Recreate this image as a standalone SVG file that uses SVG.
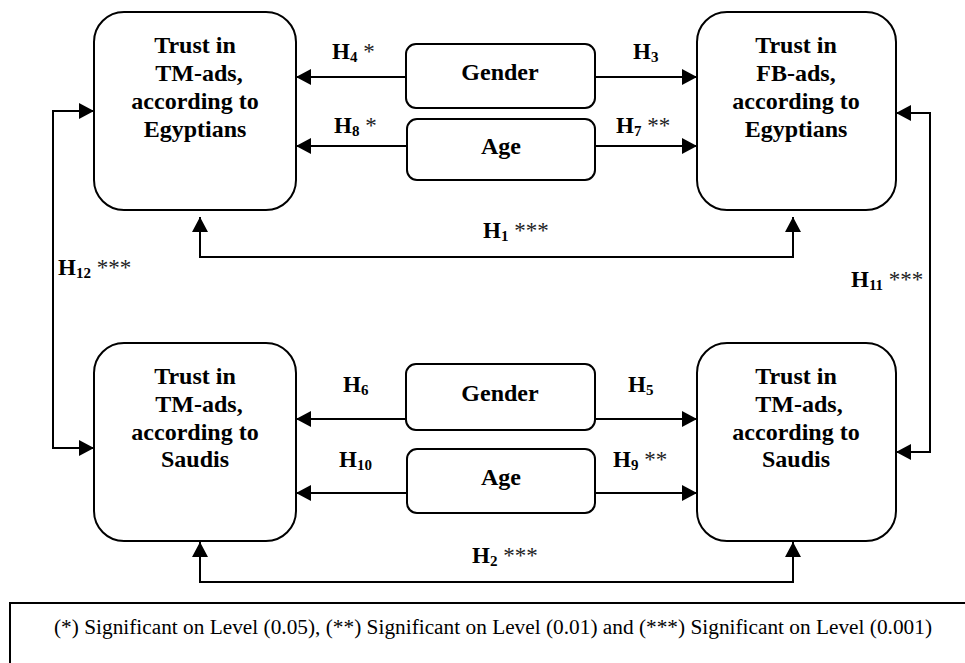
<svg xmlns="http://www.w3.org/2000/svg" width="965" height="663" viewBox="0 0 965 663">
<style>
.box{fill:#fff;stroke:#000;stroke-width:2}
.t{font-family:"Liberation Serif","Times New Roman",serif;font-weight:bold;font-size:24px;fill:#000;text-anchor:middle}
.h{font-family:"Liberation Serif","Times New Roman",serif;font-weight:bold;font-size:23px;fill:#000}
.s{font-size:15px}
.a{font-weight:normal;fill:#222}
.c{fill:none;stroke:#000;stroke-width:2}
.leg{font-family:"Liberation Serif","Times New Roman",serif;font-size:21.3px;fill:#000}
</style>
<defs>
<marker id="ar" markerUnits="userSpaceOnUse" markerWidth="15" markerHeight="16" refX="15" refY="8" orient="auto-start-reverse">
<path d="M0,0 L15,8 L0,16 z" fill="#000"/>
</marker>
</defs>

<g id="connectors">
<path class="c" d="M406,77 H296" marker-end="url(#ar)"/>
<path class="c" d="M595,77 H697" marker-end="url(#ar)"/>
<path class="c" d="M407,146 H296" marker-end="url(#ar)"/>
<path class="c" d="M595,146 H697" marker-end="url(#ar)"/>
<path class="c" d="M200,217 V257 H793 V217" marker-start="url(#ar)" marker-end="url(#ar)"/>
<path class="c" d="M94,111 H53 V448 H94" marker-start="url(#ar)" marker-end="url(#ar)"/>
<path class="c" d="M896,113 H930 V452 H896" marker-start="url(#ar)" marker-end="url(#ar)"/>
<path class="c" d="M406,419 H296" marker-end="url(#ar)"/>
<path class="c" d="M595,419 H697" marker-end="url(#ar)"/>
<path class="c" d="M407,493 H296" marker-end="url(#ar)"/>
<path class="c" d="M595,493 H697" marker-end="url(#ar)"/>
<path class="c" d="M200,542 V582 H793 V542" marker-start="url(#ar)" marker-end="url(#ar)"/>
</g>

<g id="labels">
<text class="h" x="332" y="59">H<tspan class="s" dy="3">4</tspan><tspan class="a" dy="-3"> *</tspan></text>
<text class="h" x="633" y="59">H<tspan class="s" dy="3">3</tspan></text>
<text class="h" x="334" y="133">H<tspan class="s" dy="3">8</tspan><tspan class="a" dy="-3"> *</tspan></text>
<text class="h" x="616" y="133">H<tspan class="s" dy="3">7</tspan><tspan class="a" dy="-3"> **</tspan></text>
<text class="h" x="483" y="238">H<tspan class="s" dy="3">1</tspan><tspan class="a" dy="-3"> ***</tspan></text>
<text class="h" x="58" y="275">H<tspan class="s" dy="3">12</tspan><tspan class="a" dy="-3"> ***</tspan></text>
<text class="h" x="851" y="287">H<tspan class="s" dy="3">11</tspan><tspan class="a" dy="-3"> ***</tspan></text>
<text class="h" x="343" y="392">H<tspan class="s" dy="3">6</tspan></text>
<text class="h" x="628" y="392">H<tspan class="s" dy="3">5</tspan></text>
<text class="h" x="339" y="467">H<tspan class="s" dy="3">10</tspan></text>
<text class="h" x="613" y="467">H<tspan class="s" dy="3">9</tspan><tspan class="a" dy="-3"> **</tspan></text>
<text class="h" x="472" y="563">H<tspan class="s" dy="3">2</tspan><tspan class="a" dy="-3"> ***</tspan></text>
</g>

<g id="tm-egypt">
<rect class="box" x="94" y="12" width="202" height="198" rx="30"/>
<text class="t"><tspan x="195" y="53">Trust in</tspan><tspan x="199" y="81">TM-ads,</tspan><tspan x="195" y="109">according to</tspan><tspan x="195" y="137">Egyptians</tspan></text>
</g>
<g id="fb-egypt">
<rect class="box" x="697" y="12" width="199" height="198" rx="30"/>
<text class="t"><tspan x="796" y="53">Trust in</tspan><tspan x="796" y="81">FB-ads,</tspan><tspan x="796" y="109">according to</tspan><tspan x="796" y="137">Egyptians</tspan></text>
</g>
<g id="gender-top">
<rect class="box" x="406" y="44" width="189" height="64" rx="10"/>
<text class="t" x="500" y="80">Gender</text>
</g>
<g id="age-top">
<rect class="box" x="407" y="119" width="188" height="61" rx="10"/>
<text class="t" x="501" y="154">Age</text>
</g>
<g id="tm-saudi-left">
<rect class="box" x="94" y="343" width="202" height="198" rx="30"/>
<text class="t"><tspan x="195" y="384">Trust in</tspan><tspan x="199" y="412">TM-ads,</tspan><tspan x="195" y="440">according to</tspan><tspan x="195" y="467">Saudis</tspan></text>
</g>
<g id="tm-saudi-right">
<rect class="box" x="697" y="343" width="199" height="198" rx="30"/>
<text class="t"><tspan x="796" y="384">Trust in</tspan><tspan x="799" y="412">TM-ads,</tspan><tspan x="796" y="440">according to</tspan><tspan x="796" y="467">Saudis</tspan></text>
</g>
<g id="gender-bottom">
<rect class="box" x="406" y="364" width="189" height="66" rx="10"/>
<text class="t" x="500" y="401">Gender</text>
</g>
<g id="age-bottom">
<rect class="box" x="407" y="449" width="188" height="64" rx="10"/>
<text class="t" x="501" y="485">Age</text>
</g>

<g id="legend">
<rect x="10" y="603" width="970" height="80" fill="none" stroke="#000" stroke-width="2"/>
<text class="leg" x="54" y="634" textLength="878" lengthAdjust="spacing">(*) Significant on Level (0.05), (**) Significant on Level (0.01) and (***) Significant on Level (0.001)</text>
</g>
</svg>
